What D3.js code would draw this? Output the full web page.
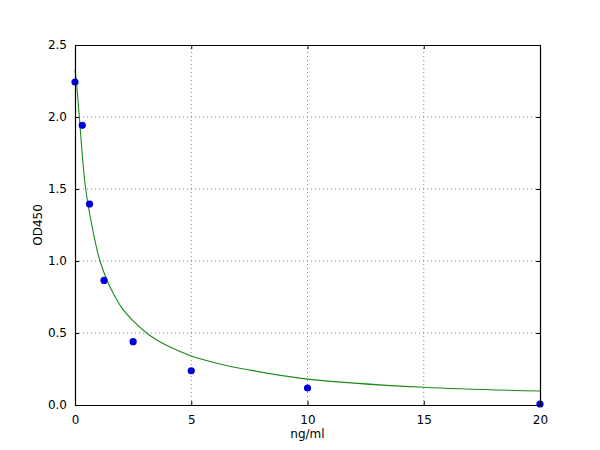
<!DOCTYPE html>
<html>
<head>
<meta charset="utf-8">
<script src="https://cdn.jsdelivr.net/npm/d3@7"></script>
<style>
  body { margin: 0; background: #fff; }
  text { font-family: "DejaVu Sans", sans-serif; fill: #000; }
</style>
</head>
<body>
<div id="chart"></div>
<script>
// measured standards
var conc = [0, 0.3125, 0.625, 1.25, 2.5, 5, 10, 20];
var od = [2.243, 1.942, 1.396, 0.865, 0.44, 0.238, 0.118, 0.007];

// fitted curve
var fitX = [0, 0.08, 0.186, 0.46, 0.875, 1.075, 1.38, 1.6, 2, 2.5, 3.08, 3.5, 4, 5, 6, 7.5, 10, 15, 20];
var fitY = [2.33, 2.21, 2.0, 1.5, 1.13, 1.0, 0.865, 0.79, 0.678, 0.584, 0.5, 0.453, 0.409, 0.34, 0.294, 0.243, 0.18, 0.123, 0.097];

var xTicks = [0, 5, 10, 15, 20];
var yTicks = [0, 0.5, 1.0, 1.5, 2.0, 2.5];

var width = 600,
    height = 450,
    margin = { top: 45, right: 60, bottom: 45, left: 75 };

var svg = d3.select("#chart").append("svg")
    .attr("width", width)
    .attr("height", height);

var x = d3.scaleLinear().domain([0, 20]).range([margin.left, width - margin.right]);
var y = d3.scaleLinear().domain([0, 2.5]).range([height - margin.bottom, margin.top]);

// grid
var grid = svg.append("g")
    .attr("stroke", "#666")
    .attr("stroke-width", 0.8)
    .attr("stroke-dasharray", "1,3");
grid.selectAll("line.gx").data(xTicks.slice(1, -1)).enter().append("line")
    .attr("x1", d => x(d)).attr("x2", d => x(d))
    .attr("y1", y(0)).attr("y2", y(2.5));
grid.selectAll("line.gy").data(yTicks.slice(1, -1)).enter().append("line")
    .attr("y1", d => y(d)).attr("y2", d => y(d))
    .attr("x1", x(0)).attr("x2", x(20));

// fitted curve
var line = d3.line()
    .x(function (d, i) { return x(fitX[i]); })
    .y(function (d) { return y(d); })
    .curve(d3.curveCatmullRom.alpha(0.5));

svg.append("path")
    .attr("d", line(fitY))
    .attr("fill", "none")
    .attr("stroke", "#1a8a1a")
    .attr("stroke-width", 1.1);

// points
svg.append("g").selectAll("circle").data(od).enter().append("circle")
    .attr("cx", function (d, i) { return x(conc[i]); })
    .attr("cy", function (d) { return y(d); })
    .attr("r", 3.6)
    .attr("fill", "#0000dd");

// axes (ticks inside, as in the original)
var xAxis = d3.axisBottom(x).tickValues(xTicks).tickFormat(d3.format("d"))
    .tickSizeInner(-4).tickSizeOuter(0).tickPadding(10);
var yAxis = d3.axisLeft(y).tickValues(yTicks).tickFormat(d3.format(".1f"))
    .tickSizeInner(-4).tickSizeOuter(0).tickPadding(8);

var gx = svg.append("g").attr("transform", "translate(0," + y(0) + ")").call(xAxis);
var gy = svg.append("g").attr("transform", "translate(" + x(0) + ",0)").call(yAxis);
svg.append("g").attr("transform", "translate(0," + y(2.5) + ")")
    .call(d3.axisTop(x).tickValues(xTicks).tickFormat("").tickSizeInner(-4).tickSizeOuter(0));
svg.append("g").attr("transform", "translate(" + x(20) + ",0)")
    .call(d3.axisRight(y).tickValues(yTicks).tickFormat("").tickSizeInner(-4).tickSizeOuter(0));

svg.selectAll(".domain").attr("stroke", "#000").attr("stroke-width", 1.2);
svg.selectAll(".tick line").attr("stroke", "#000");
svg.selectAll(".tick text").style("font-size", "12px").style("font-family", "DejaVu Sans");

// axis titles
svg.append("text")
    .attr("x", (x(0) + x(20)) / 2)
    .attr("y", 438)
    .attr("text-anchor", "middle")
    .style("font-size", "12px")
    .text("ng/ml");

svg.append("text")
    .attr("transform", "translate(42," + (y(0) + y(2.5)) / 2 + ") rotate(-90)")
    .attr("text-anchor", "middle")
    .style("font-size", "12px")
    .text("OD450");
</script>
</body>
</html>
